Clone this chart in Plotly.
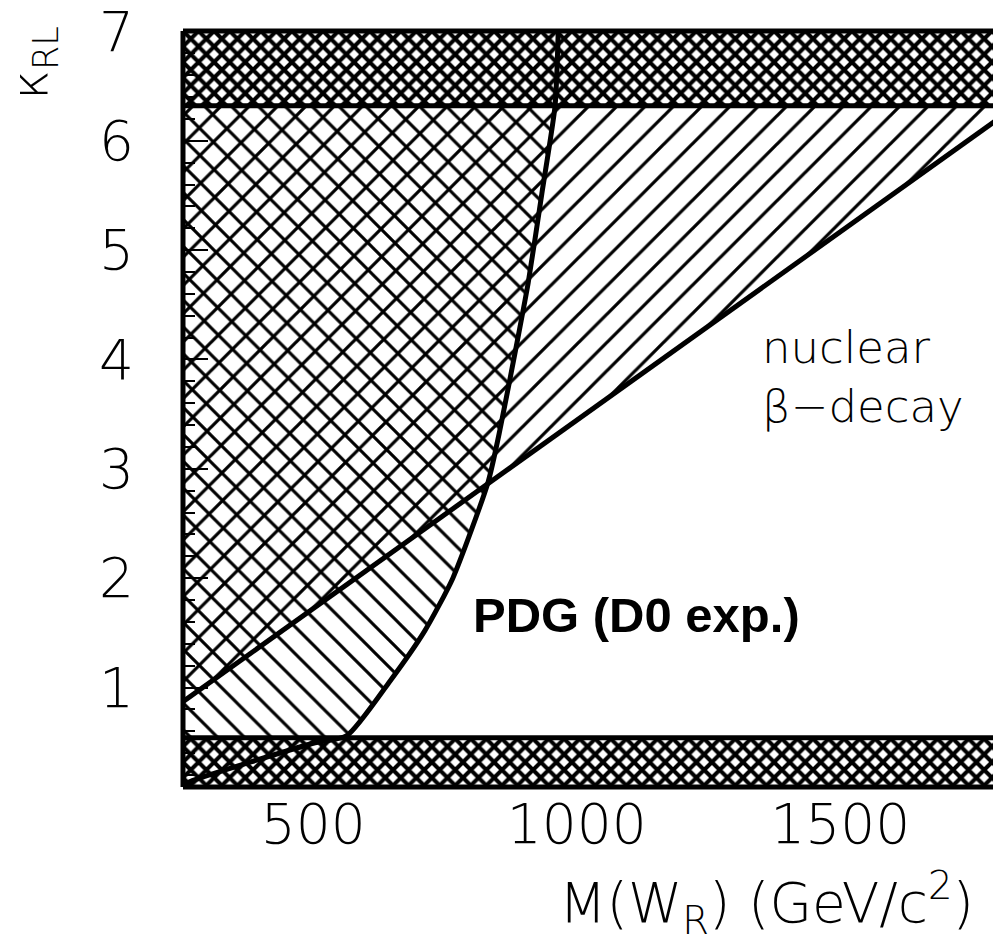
import plotly.graph_objects as go

# ---- data ----
X_RANGE = [253, 1790]          # M(W_R) axis range, GeV/c^2
Y_RANGE = [0.09, 7.004]        # kappa_RL axis range
x_tickvals = [500, 1000, 1500]
y_tickvals = [1, 2, 3, 4, 5, 6, 7]

# D0 exclusion curve
curve_M = [250, 272, 500, 564, 646, 712, 765, 832, 855, 887, 908, 934, 959, 965]
curve_kappa = [0.10, 0.15, 0.49, 0.56, 1.06, 1.52, 2.00, 2.88, 3.37, 4.16, 4.70, 5.52, 6.32, 7.00]

# nuclear beta-decay line
beta_M = [250, 1800]
beta_kappa = [0.86, 6.20]

# excluded horizontal bands
band_top = [6.32, 7.0]
band_bottom = [0.09, 0.54]

fig = go.Figure()

def pat(shape, size, sol, bg='rgba(0,0,0,0)'):
    return dict(shape=shape, size=size, solidity=sol, fgcolor='black', bgcolor=bg, fgopacity=1)

# region left of D0 curve: "\" hatching
left_x = [X_RANGE[0] - 20, X_RANGE[0] - 20] + curve_M[::-1]
left_y = [curve_kappa[0], Y_RANGE[1]] + curve_kappa[::-1]
fig.add_trace(go.Scatter(x=left_x, y=left_y, mode='lines', line=dict(width=0),
                         fill='toself', fillcolor='rgba(0,0,0,0)',
                         fillpattern=pat('\\', 19, 0.16), hoverinfo='skip', showlegend=False))

# region above beta-decay line: "/" hatching
up_x = [beta_M[0], beta_M[1], beta_M[1], beta_M[0]]
up_y = [beta_kappa[0], beta_kappa[1], Y_RANGE[1], Y_RANGE[1]]
fig.add_trace(go.Scatter(x=up_x, y=up_y, mode='lines', line=dict(width=0),
                         fill='toself', fillcolor='rgba(0,0,0,0)',
                         fillpattern=pat('/', 20, 0.16), hoverinfo='skip', showlegend=False))

# bands: dense cross hatch
for b in (band_top, band_bottom):
    fig.add_trace(go.Scatter(x=[beta_M[0], beta_M[1], beta_M[1], beta_M[0]],
                             y=[b[0], b[0], b[1], b[1]], mode='lines', line=dict(width=0),
                             fill='toself', fillcolor='rgba(0,0,0,0)',
                             fillpattern=pat('x', 11, 0.6, 'white'),
                             hoverinfo='skip', showlegend=False))

# band edges
for k in (band_top[0], band_bottom[1]):
    fig.add_trace(go.Scatter(x=beta_M, y=[k, k], mode='lines',
                             line=dict(color='black', width=5), hoverinfo='skip', showlegend=False))

# beta-decay line
fig.add_trace(go.Scatter(x=beta_M, y=beta_kappa, mode='lines',
                         line=dict(color='black', width=5), hoverinfo='skip', showlegend=False))
# D0 curve
fig.add_trace(go.Scatter(x=curve_M, y=curve_kappa, mode='lines',
                         line=dict(color='black', width=5, shape='spline', smoothing=0.6),
                         hoverinfo='skip', showlegend=False))

tickfont = dict(family='DejaVu Sans', size=55, color='black', weight=200)

fig.update_xaxes(range=X_RANGE, tickvals=x_tickvals, ticks='', showgrid=False, zeroline=False,
                 showline=False, tickfont=tickfont, ticklabelstandoff=0,
                 ticklabeloverflow='allow')
fig.update_yaxes(range=Y_RANGE, tickvals=y_tickvals, ticks='inside', ticklen=25, tickwidth=2,
                 tickcolor='black', showgrid=False, zeroline=False, showline=False,
                 minor=dict(ticks='inside', dtick=0.2, ticklen=12, tickwidth=2, tickcolor='black'),
                 tickfont=tickfont, ticklabelstandoff=48, ticklabeloverflow='allow')

# frame (left, top, bottom; right side is cut off in the reference)
for (x0, y0, x1, y1) in [(0, 0, 0, 1), (0, 1, 1, 1), (0, 0, 1, 0)]:
    fig.add_shape(type='line', xref='paper', yref='paper', x0=x0, y0=y0, x1=x1, y1=y1,
                  line=dict(color='black', width=5), layer='above')

fig.add_annotation(x=1113, y=1.66, xref='x', yref='y', text='<b>PDG (D0 exp.)</b>',
                   showarrow=False, bgcolor='white', borderpad=12,
                   font=dict(family='Liberation Sans', size=49, color='black'))
fig.add_annotation(x=1348, y=3.84, xref='x', yref='y', text='nuclear<br>β−decay',
                   showarrow=False, xanchor='left', yanchor='middle', align='left',
                   font=dict(family='DejaVu Sans', size=45, color='black', weight=200))
fig.add_annotation(x=-0.184, y=0.958, xref='paper', yref='paper', text='κ<sub>RL</sub>',
                   textangle=-90, showarrow=False, xanchor='center', yanchor='middle',
                   font=dict(family='DejaVu Sans', size=50, color='black', weight=200))
fig.add_annotation(x=0.72, y=-0.153, xref='paper', yref='paper',
                   text='M(W<sub>R</sub>) (GeV/c<sup>2</sup>)', showarrow=False,
                   xanchor='center', yanchor='middle',
                   font=dict(family='DejaVu Sans', size=55, color='black', weight=200))

fig.update_layout(width=993, height=946, autosize=False,
                  margin=dict(l=183, r=0, t=28, b=159),
                  paper_bgcolor='white', plot_bgcolor='white', showlegend=False)

fig.write_html('out.html')
